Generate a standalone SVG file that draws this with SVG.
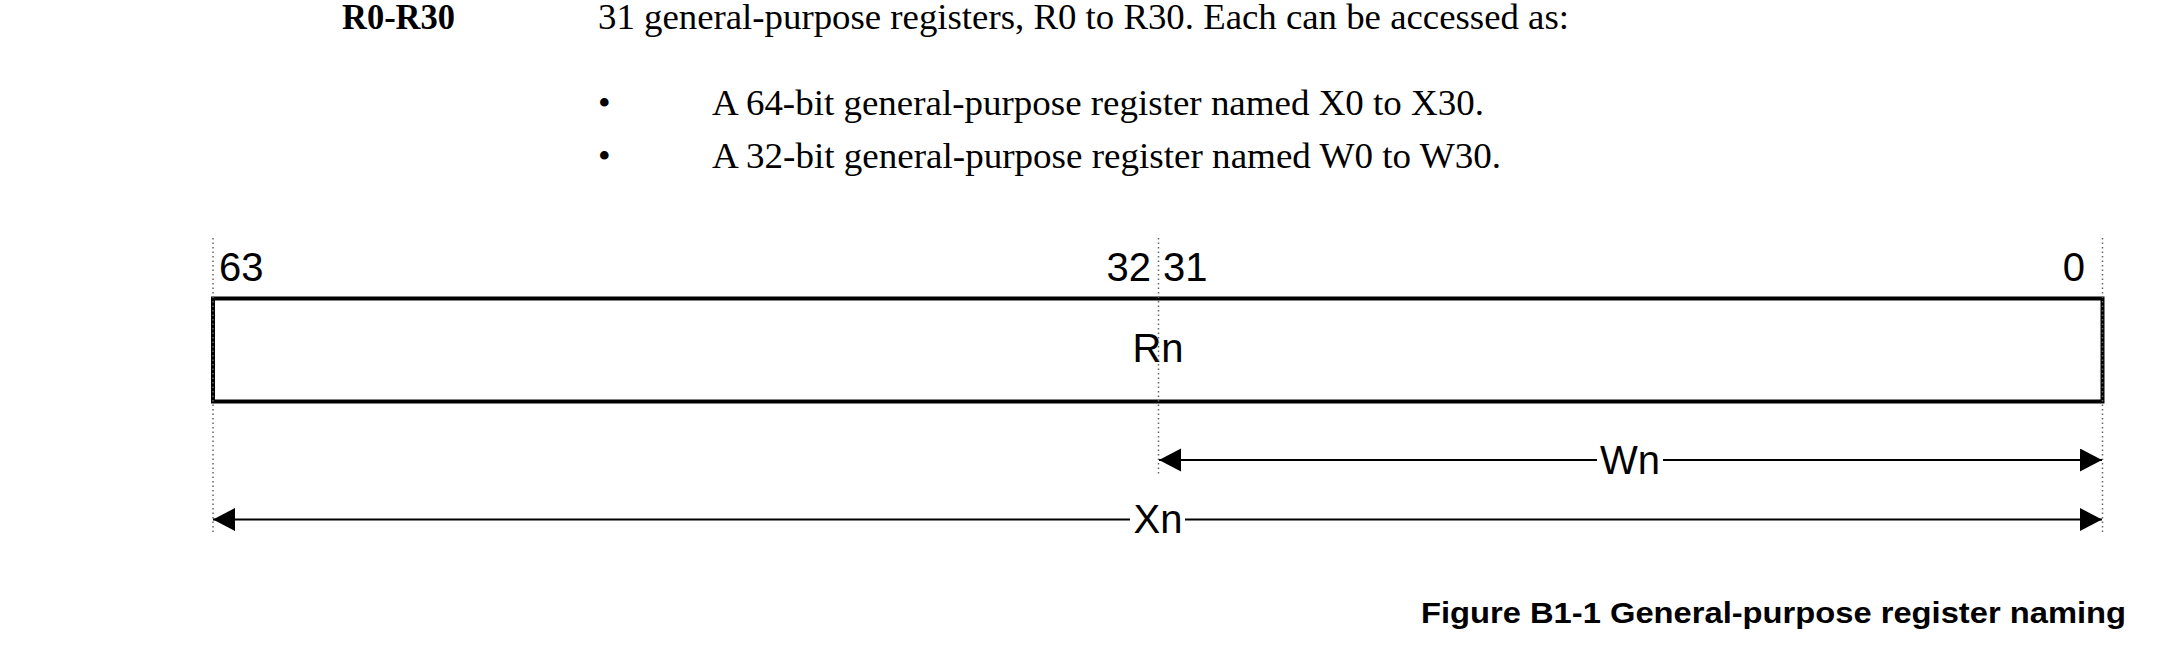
<svg xmlns="http://www.w3.org/2000/svg" width="2159" height="659" viewBox="0 0 2159 659">
<style>
.serif{font-family:"Liberation Serif","Times New Roman",serif;font-size:36px;fill:#000}
.bold{font-weight:bold}
.sans{font-family:"Liberation Sans",Arial,sans-serif;font-size:40px;fill:#000}
.cap{font-family:"Liberation Sans",Arial,sans-serif;font-size:30px;font-weight:bold;fill:#000}
.dot{stroke:#666;stroke-width:1.5;stroke-dasharray:1.5 3;fill:none}
.arr{stroke:#000;stroke-width:2;fill:none}
.box{stroke:#000;stroke-width:4;fill:#fff}
</style>
<defs>
<marker id="ah" markerUnits="userSpaceOnUse" markerWidth="23" markerHeight="24" refX="22" refY="11.5" orient="auto-start-reverse">
<path d="M0,0 L22,11.5 L0,23 Z" fill="#000"/>
</marker>
</defs>
<rect width="2159" height="659" fill="#fff"/>
<g id="description">
<text class="serif bold" x="342" y="29" textLength="113" lengthAdjust="spacingAndGlyphs">R0-R30</text>
<text class="serif" x="598" y="29" textLength="971" lengthAdjust="spacingAndGlyphs">31 general-purpose registers, R0 to R30. Each can be accessed as:</text>
<text class="serif" x="598" y="115">•</text>
<text class="serif" x="712" y="115" textLength="772" lengthAdjust="spacingAndGlyphs">A 64-bit general-purpose register named X0 to X30.</text>
<text class="serif" x="598" y="168">•</text>
<text class="serif" x="712" y="168" textLength="789" lengthAdjust="spacingAndGlyphs">A 32-bit general-purpose register named W0 to W30.</text>
</g>
<g id="register-Rn">
<rect class="box" x="213" y="298.5" width="1889.5" height="103"/>
<text class="sans" x="1158" y="362" text-anchor="middle">Rn</text>
</g>
<g id="guides">
<line class="dot" x1="213" y1="238" x2="213" y2="533"/>
<line class="dot" x1="1158.5" y1="238" x2="1158.5" y2="475"/>
<line class="dot" x1="2102.5" y1="238" x2="2102.5" y2="533"/>
</g>
<g id="bit-labels">
<text class="sans" x="219" y="281">63</text>
<text class="sans" x="1151" y="281" text-anchor="end">32</text>
<text class="sans" x="1163" y="281">31</text>
<text class="sans" x="2085" y="281" text-anchor="end">0</text>
</g>
<g id="connectors">
<line class="arr" x1="1159" y1="460" x2="1597" y2="460" marker-start="url(#ah)"/>
<line class="arr" x1="1663" y1="460" x2="2102" y2="460" marker-end="url(#ah)"/>
<line class="arr" x1="213" y1="519.5" x2="1130" y2="519.5" marker-start="url(#ah)"/>
<line class="arr" x1="1185" y1="519.5" x2="2102" y2="519.5" marker-end="url(#ah)"/>
</g>
<g id="label-Wn">
<text class="sans" x="1630" y="474" text-anchor="middle">Wn</text>
</g>
<g id="label-Xn">
<text class="sans" x="1158" y="533" text-anchor="middle">Xn</text>
</g>
<g id="caption">
<text class="cap" x="1421" y="623" textLength="705" lengthAdjust="spacingAndGlyphs">Figure B1-1 General-purpose register naming</text>
</g>
</svg>
